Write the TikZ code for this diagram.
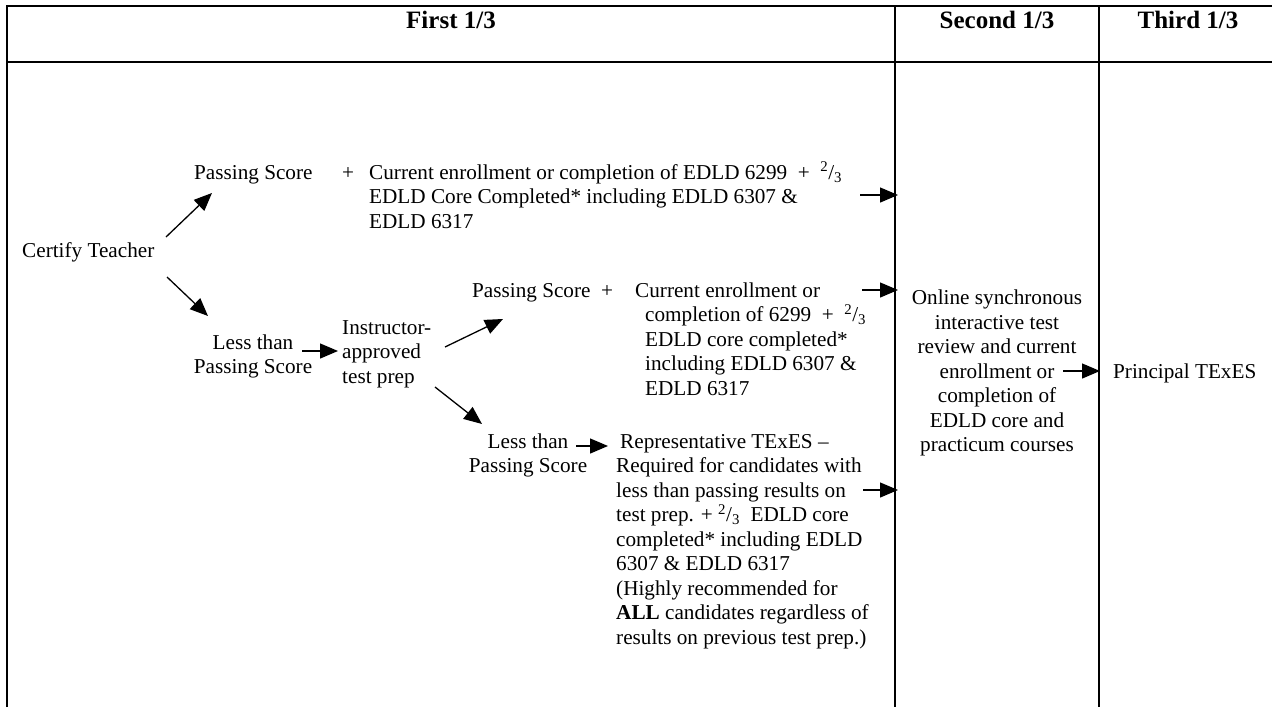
\documentclass[tikz,border=0pt]{standalone}
\usepackage{fontspec}
\setmainfont{Liberation Serif}
\usetikzlibrary{arrows.meta}
\begin{document}
\begin{tikzpicture}[x=1pt,y=-1pt,
  txt/.style={inner sep=0pt, font=\fontsize{21.2}{24.5}\selectfont},
  hdr/.style={inner sep=0pt, anchor=base, font=\fontsize{25}{29}\selectfont\bfseries},
  rule/.style={line width=2.8pt},
  arr/.style={line width=1.3pt, -{Triangle[length=18pt,width=15pt]}}]
\useasboundingbox (0,0) rectangle (1272,707);
% table rules
\draw[rule] (7,707) -- (7,6) -- (1272,6);
\draw[rule] (7,62) -- (1272,62);
\draw[rule] (895,6) -- (895,707);
\draw[rule] (1099,6) -- (1099,707);
% headers
\node[hdr] (h1) at (451,28) {First 1/3};
\node[hdr] (h2) at (997,28) {Second 1/3};
\node[hdr] (h3) at (1188,28) {Third 1/3};
% first column
\node[txt,anchor=base west] (certify) at (22,257) {Certify Teacher};
\node[txt,anchor=base west] (pass1) at (194,179) {Passing Score};
\node[txt,anchor=base] (plus1) at (348,179) {+};
\node[txt,anchor=base west] (req1) at (369,179) {\begin{tabular}[t]{@{}l@{}}
Current enrollment or completion of EDLD 6299\ \ +\ \ \textsuperscript{2}/\textsubscript{3}\\
EDLD Core Completed* including EDLD 6307 \&\\
EDLD 6317\end{tabular}};
\node[txt,anchor=base] (less1) at (253,349) {\begin{tabular}[t]{@{}c@{}}Less than\\ Passing Score\end{tabular}};
\node[txt,anchor=base west] (instr) at (342,334) {\begin{tabular}[t]{@{}l@{}}Instructor-\\ approved\\ test prep\end{tabular}};
\node[txt,anchor=base west] (pass2) at (472,297) {Passing Score};
\node[txt,anchor=base] (plus2) at (607,297) {+};
\node[txt,anchor=base west] (req2) at (635,297) {\begin{tabular}[t]{@{}l@{}}
Current enrollment or\\
\hspace*{10pt}completion of 6299\ \ +\ \ \textsuperscript{2}/\textsubscript{3}\\
\hspace*{10pt}EDLD core completed*\\
\hspace*{10pt}including EDLD 6307 \&\\
\hspace*{10pt}EDLD 6317\end{tabular}};
\node[txt,anchor=base] (less2) at (528,448) {\begin{tabular}[t]{@{}c@{}}Less than\\ Passing Score\end{tabular}};
\node[txt,anchor=base west] (rep) at (616,448) {\begin{tabular}[t]{@{}l@{}}
\hspace*{4pt}Representative TExES –\\
Required for candidates with\\
less than passing results on\\
test prep. + \textsuperscript{2}/\textsubscript{3}\ \ EDLD core\\
completed* including EDLD\\
6307 \& EDLD 6317\\
(Highly recommended for\\
\textbf{ALL} candidates regardless of\\
results on previous test prep.)\end{tabular}};
% second column
\node[txt,anchor=base] (online) at (997,304.5) {\begin{tabular}[t]{@{}c@{}}
Online synchronous\\
interactive test\\
review and current\\
enrollment or\\
completion of\\
EDLD core and\\
practicum courses\end{tabular}};
% third column
\node[txt,anchor=base west] (principal) at (1113,378) {Principal TExES};
% connector ends
\coordinate (c1s) at (166,237); \coordinate (c1e) at (212,193);
\coordinate (c2s) at (167,277); \coordinate (c2e) at (208,316);
\coordinate (c3s) at (302,351); \coordinate (c3e) at (338,351);
\coordinate (c4s) at (445,347); \coordinate (c4e) at (503,319);
\coordinate (c5s) at (435,387); \coordinate (c5e) at (482,424);
\coordinate (c6s) at (576,446); \coordinate (c6e) at (608,446);
\coordinate (c7s) at (860,195); \coordinate (c7e) at (898,195);
\coordinate (c8s) at (862,290); \coordinate (c8e) at (898,290);
\coordinate (c9s) at (863,490); \coordinate (c9e) at (898,490);
\coordinate (c10s) at (1063,371); \coordinate (c10e) at (1100,371);
\draw[arr] (c1s) -- (c1e);
\draw[arr] (c2s) -- (c2e);
\draw[arr] (c3s) -- (c3e);
\draw[arr] (c4s) -- (c4e);
\draw[arr] (c5s) -- (c5e);
\draw[arr] (c6s) -- (c6e);
\draw[arr] (c7s) -- (c7e);
\draw[arr] (c8s) -- (c8e);
\draw[arr] (c9s) -- (c9e);
\draw[arr] (c10s) -- (c10e);
\end{tikzpicture}
\end{document}
